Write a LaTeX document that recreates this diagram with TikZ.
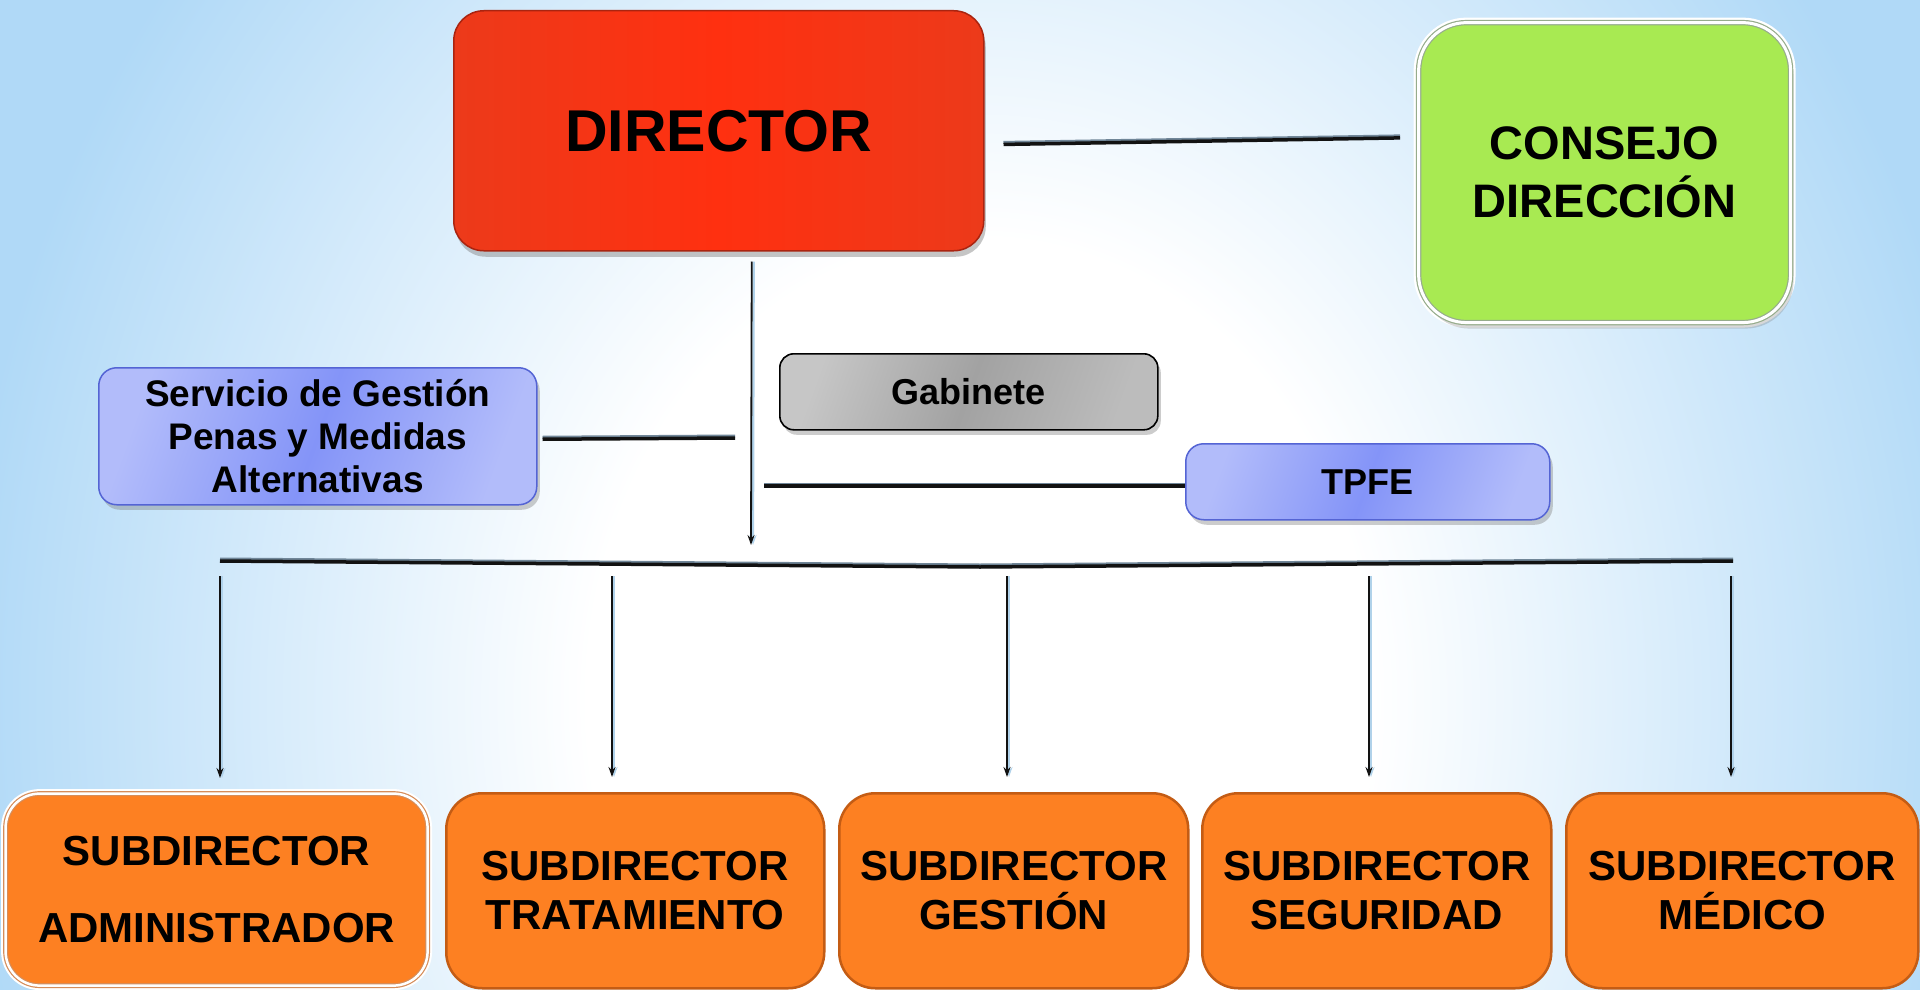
\documentclass[tikz,border=0pt]{standalone}
\usepackage{fontspec}
\setmainfont{Liberation Sans}
\usetikzlibrary{arrows.meta,shadows}
\definecolor{bgblue}{RGB}{176,217,247}
\definecolor{dirred}{RGB}{255,48,16}
\definecolor{dirdark}{RGB}{236,58,26}
\definecolor{dirborder}{RGB}{170,36,16}
\definecolor{cgreen}{RGB}{168,234,82}
\definecolor{cborder}{RGB}{150,172,140}
\definecolor{blight}{RGB}{178,188,250}
\definecolor{bmid}{RGB}{132,148,248}
\definecolor{bborder}{RGB}{84,100,212}
\definecolor{glight}{RGB}{198,198,198}
\definecolor{gmid}{RGB}{162,162,162}
\definecolor{orfill}{RGB}{253,128,34}
\definecolor{orborder}{RGB}{196,92,20}
\definecolor{barhl}{RGB}{112,134,152}
\definecolor{vhl}{RGB}{176,210,234}
\definecolor{linedark}{RGB}{18,18,18}
\pgfdeclareradialshading{bgshade}{\pgfpoint{0bp}{0bp}}{color(0bp)=(white); color(10bp)=(white); color(26bp)=(bgblue); color(50bp)=(bgblue)}
\tikzset{
  box/.style={align=center, inner sep=0pt, anchor=north west},
  dirbox/.style={box, rounded corners=30pt, draw=dirborder, line width=1.5pt,
     left color=dirdark, right color=dirdark, middle color=dirred,
     drop shadow={opacity=0.45, shadow xshift=2pt, shadow yshift=-6pt}},
  conbox/.style={box, rounded corners=48pt, fill=cgreen,
     preaction={draw=white, line width=10pt},
     draw=cborder, line width=1.2pt, double=white, double distance=3pt,
     drop shadow={opacity=0.3, shadow xshift=3pt, shadow yshift=-6pt}},
  bluebox/.style={box, rounded corners=18pt, draw=bborder, line width=1.5pt,
     left color=blight, right color=blight, middle color=bmid, shading angle=70,
     drop shadow={opacity=0.4, shadow xshift=3pt, shadow yshift=-5pt}},
  graybox/.style={box, rounded corners=14pt, draw=black, line width=1.6pt,
     left color=glight, right color=glight!95!black, middle color=gmid, shading angle=70,
     drop shadow={opacity=0.4, shadow xshift=3pt, shadow yshift=-5pt}},
  subbox/.style={box, rounded corners=36pt, fill=orfill, draw=orborder, line width=2.5pt,
     font={\bfseries\fontsize{42}{49}\selectfont}},
  subboxw/.style={box, rounded corners=34pt, fill=orfill,
     preaction={draw=white, line width=9pt},
     draw=orborder!70!white, line width=1.2pt, double=white, double distance=2.5pt,
     font={\bfseries\fontsize{42}{77}\selectfont}},
  bar/.style={draw=linedark, line width=3.5pt,
     preaction={draw=barhl, line width=3pt, transform canvas={yshift=2pt}}},
  varrow/.style={draw=linedark, line width=1.8pt, -{Stealth[length=10pt,width=7pt]},
     preaction={draw=vhl, line width=2.2pt, transform canvas={xshift=2pt}}},
}
\begin{document}
\begin{tikzpicture}[x=1pt,y=-1pt]
\useasboundingbox (0,0) rectangle (1920,990);
\begin{scope}
  \clip (0,0) rectangle (1920,990);
  \shade[shading=bgshade] (0,-450) rectangle (1960,1850);
\end{scope}

% top
\node[dirbox, minimum width=530pt, minimum height=240pt,
  font={\bfseries\fontsize{59}{70}\selectfont}] (director) at (453,10) {DIRECTOR};
\node[conbox, minimum width=372pt, minimum height=300pt,
  font={\bfseries\fontsize{47}{58}\selectfont}] (consejo) at (1418,22) {CONSEJO\\DIRECCIÓN};

% middle
\node[bluebox, minimum width=438pt, minimum height=137pt,
  font={\bfseries\fontsize{37}{43}\selectfont}] (serv) at (98,367)
  {Servicio de Gestión\\Penas y Medidas\\Alternativas};
\node[graybox, minimum width=378pt, minimum height=76pt,
  font={\bfseries\fontsize{36}{43}\selectfont}] (gab) at (779,353) {Gabinete};
\node[bluebox, minimum width=364pt, minimum height=76pt,
  font={\bfseries\fontsize{36}{43}\selectfont}] (tpfe) at (1185,443) {TPFE};

% bottom
\node[subboxw, minimum width=422pt, minimum height=192pt] (sub1) at (5,793)
  {SUBDIRECTOR\\ADMINISTRADOR};
\node[subbox, minimum width=378pt, minimum height=195pt] (sub2) at (445,792)
  {SUBDIRECTOR\\TRATAMIENTO};
\node[subbox, minimum width=349pt, minimum height=195pt] (sub3) at (838,792)
  {SUBDIRECTOR\\GESTIÓN};
\node[subbox, minimum width=349pt, minimum height=195pt] (sub4) at (1201,792)
  {SUBDIRECTOR\\SEGURIDAD};
\node[subbox, minimum width=352pt, minimum height=195pt] (sub5) at (1565,792)
  {SUBDIRECTOR\\MÉDICO};

% coordinates
\coordinate (hub) at (751,545);
\coordinate (servEnd) at (735,438);
\coordinate (tpfeStart) at (764,486);
\coordinate (busL) at (220,561);
\coordinate (busM) at (980,567);
\coordinate (busR) at (1733,561);
\coordinate (d1) at (220,576);
\coordinate (d2) at (612,576);
\coordinate (d3) at (1007,576);
\coordinate (d4) at (1369,576);
\coordinate (d5) at (1731,576);

% connectors
\draw[bar, shorten <=19pt, shorten >=18pt] ([yshift=-14pt]director.east) -- ([yshift=35pt]consejo.west);
\draw[varrow] ([xshift=33pt,yshift=-10pt]director.south) -- (hub);
\draw[bar] ([xshift=5pt,yshift=-3pt]serv.east) -- (servEnd);
\draw[bar] (tpfeStart) -- (tpfeStart -| tpfe.west);
\draw[bar] (busL) -- (busM) -- (busR);
\foreach \i in {1,...,5} {
  \draw[varrow, shorten >=15pt] (d\i) -- (d\i |- sub\i.north);
}
\end{tikzpicture}
\end{document}
